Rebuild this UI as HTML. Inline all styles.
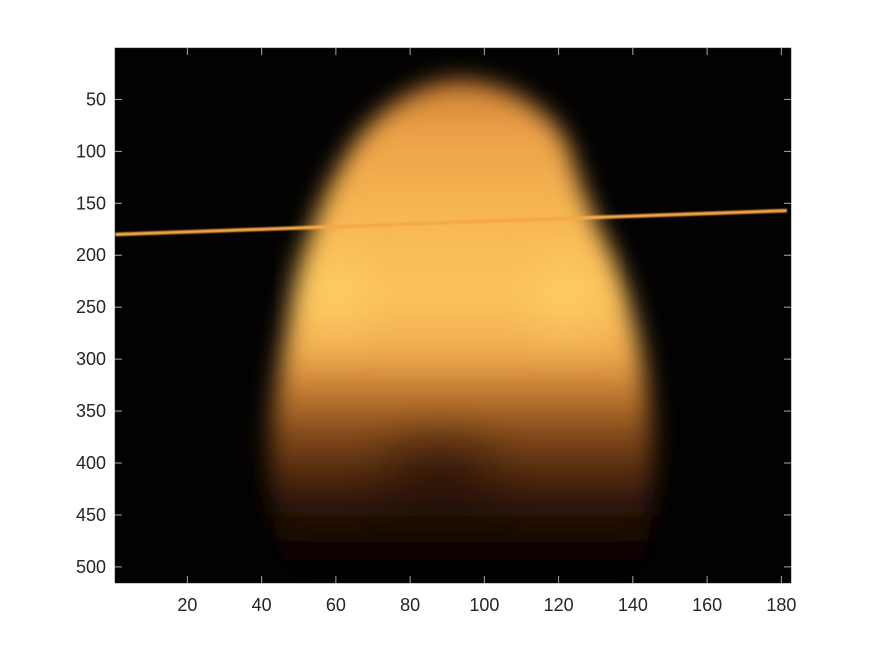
<!DOCTYPE html>
<html><head><meta charset="utf-8"><style>
html,body{margin:0;padding:0;background:#fff;width:875px;height:656px;overflow:hidden}
svg{display:block}
text{font-family:"Liberation Sans",sans-serif;font-size:18px;fill:#262626}
</style></head><body>
<svg id="chart" width="875" height="656" viewBox="0 0 875 656">
<defs>
<clipPath id="clip"><rect x="115" y="48" width="676" height="535"/></clipPath>
<linearGradient id="fg" x1="0" y1="75" x2="0" y2="570" gradientUnits="userSpaceOnUse">
<stop offset="0" stop-color="#c87a30"/>
<stop offset="0.12" stop-color="#eca248"/>
<stop offset="0.3" stop-color="#f8b854"/>
<stop offset="0.45" stop-color="#fcc25c"/>
<stop offset="0.56" stop-color="#f0ac50"/>
<stop offset="0.63" stop-color="#c88034"/>
<stop offset="0.73" stop-color="#7e4619"/>
<stop offset="0.85" stop-color="#341909"/>
<stop offset="0.95" stop-color="#0c0502"/>
<stop offset="1" stop-color="#030202"/>
</linearGradient>
<filter id="b12" x="-30%" y="-30%" width="160%" height="160%"><feGaussianBlur stdDeviation="12"/></filter>
<filter id="b25" x="-50%" y="-50%" width="200%" height="200%"><feGaussianBlur stdDeviation="22"/></filter>
<filter id="b2"><feGaussianBlur stdDeviation="0.8"/></filter>
</defs>
<g clip-path="url(#clip)">
<rect x="115" y="48" width="676" height="535" fill="#030202"/>
<path filter="url(#b12)" fill="url(#fg)"
d="M458,80 C420,82 385,105 360,135 C338,165 320,200 305,250 C292,300 280,360 272,420 C266,480 272,530 285,570 L640,570 C655,530 656,470 650,410 C642,340 628,290 610,250 C592,215 578,180 570,150 C555,110 505,80 458,80 Z"/>
<ellipse cx="335" cy="295" rx="30" ry="40" fill="#ffd870" opacity="0.5" filter="url(#b25)"/>
<ellipse cx="565" cy="295" rx="30" ry="40" fill="#ffd870" opacity="0.5" filter="url(#b25)"/>
<ellipse cx="440" cy="475" rx="55" ry="35" fill="#0a0402" opacity="0.45" filter="url(#b25)"/>
<g id="wire"></g>
</g>
<rect x="115" y="48" width="676" height="535" fill="none" stroke="#262626" stroke-width="0.5"/>
<g id="ticks"></g>
</svg>
<script>
const xTicks=[20,40,60,80,100,120,140,160,180];
const yTicks=[50,100,150,200,250,300,350,400,450,500];
const wireStart=[0.5,180];
const wireEnd=[181.5,157];
const X0=115,X1=791,Y0=48,Y1=583;
const xMin=0.5,xMax=182.6,yMin=0.5,yMax=515.5;
const sx=v=>X0+(v-xMin)/(xMax-xMin)*(X1-X0);
const sy=v=>Y0+(v-yMin)/(yMax-yMin)*(Y1-Y0);
const NS="http://www.w3.org/2000/svg";
const g=document.getElementById('ticks');
function mk(t,a,p){const e=document.createElementNS(NS,t);for(const k in a)e.setAttribute(k,a[k]);p.appendChild(e);return e;}
const w=document.getElementById('wire');
const wl=mk('line',{x1:sx(wireStart[0]),y1:sy(wireStart[1]),x2:sx(wireEnd[0]),y2:sy(wireEnd[1]),stroke:'#f5a845','stroke-width':3.5,filter:'url(#b2)'},w);


xTicks.forEach(v=>{
 const x=sx(v);
 const t1=mk('line',{x1:x,x2:x,y1:Y1,y2:Y1-7,stroke:'#aaa','stroke-width':1},g);
 
 
 const t2=mk('line',{x1:x,x2:x,y1:Y0,y2:Y0+7,stroke:'#aaa','stroke-width':1},g);
 
 
 const tx=mk('text',{x:x,y:Y1+28,'text-anchor':'middle'},g);tx.textContent=v;
 
 
});
yTicks.forEach(v=>{
 const y=sy(v);
 const t1=mk('line',{x1:X0,x2:X0+7,y1:y,y2:y,stroke:'#aaa','stroke-width':1},g);
 
 
 const t2=mk('line',{x1:X1,x2:X1-7,y1:y,y2:y,stroke:'#aaa','stroke-width':1},g);
 
 
 const ty=mk('text',{x:X0-9,y:y+6,'text-anchor':'end'},g);ty.textContent=v;
 
 
});
</script>
</body></html>
